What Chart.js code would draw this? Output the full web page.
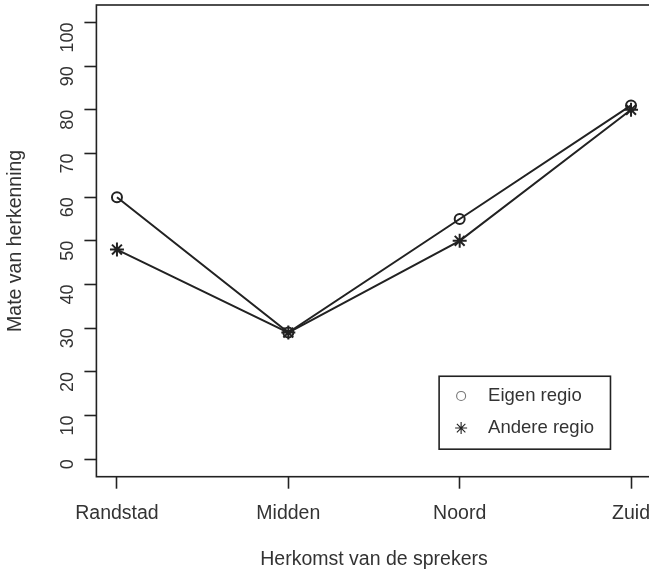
<!DOCTYPE html>
<html>
<head>
<meta charset="utf-8">
<script src="https://cdn.jsdelivr.net/npm/chart.js@4/dist/chart.umd.min.js"></script>
<style>
  html, body { margin: 0; padding: 0; background: #fff; overflow: hidden; }
  #wrap { width: 660px; height: 571px; }
</style>
</head>
<body>
<div id="wrap"><canvas id="chart" width="660" height="571"></canvas></div>
<script>
const categories = ['Randstad', 'Midden', 'Noord', 'Zuid']
const eigenRegio = [60, 29, 55, 81]
const andereRegio = [48, 29, 50, 80]
const yTicks = [0, 10, 20, 30, 40, 50, 60, 70, 80, 90, 100]

const ink = '#222'
const textColor = '#333'
const font = "'Liberation Sans', Arial, sans-serif"

// R-style box around the plot region
const boxPlugin = {
  id: 'box',
  afterDraw(chart) {
    const { ctx, chartArea: a } = chart
    ctx.save()
    ctx.strokeStyle = ink
    ctx.lineWidth = 1.6
    ctx.strokeRect(a.left, a.top, a.right - a.left, a.bottom - a.top)
    ctx.restore()
  }
}

// boxed legend in the lower right, like R's legend()
const boxLegend = {
  id: 'boxLegend',
  afterDraw(chart) {
    const { ctx } = chart
    const x = chart.scales.x
    const y = chart.scales.y
    const left = x.getPixelForValue(2.88)
    const right = x.getPixelForValue(3.88)
    const top = y.getPixelForValue(19)
    const bottom = y.getPixelForValue(2.3)
    ctx.save()
    ctx.strokeStyle = ink
    ctx.lineWidth = 1.6
    ctx.strokeRect(left, top, right - left, bottom - top)
    ctx.font = '18.5px ' + font
    ctx.textBaseline = 'middle'
    const rows = [top + (bottom - top) * 0.27, top + (bottom - top) * 0.71]
    chart.data.datasets.forEach((ds, i) => {
      const cy = rows[i]
      const cx = left + 22
      ctx.fillStyle = 'rgba(0,0,0,0)'
      if (ds.pointStyle === 'circle') {
        ctx.strokeStyle = '#777'
        ctx.lineWidth = 1.1
        ctx.beginPath()
        ctx.arc(cx, cy, 4.5, 0, Math.PI * 2)
        ctx.stroke()
      } else {
        ctx.strokeStyle = ink
        Chart.helpers.drawPoint(ctx, { pointStyle: ds.pointStyle, radius: 6, borderWidth: 1.3 }, cx, cy)
      }
      ctx.fillStyle = textColor
      ctx.fillText(ds.label, left + 49, cy)
    })
    ctx.restore()
  }
}

new Chart(document.getElementById('chart'), {
  type: 'line',
  data: {
    datasets: [
      {
        label: 'Eigen regio',
        data: categories.map((c, i) => ({ x: i + 1, y: eigenRegio[i] })),
        borderColor: ink,
        borderWidth: 2,
        pointStyle: 'circle',
        pointRadius: 5,
        pointBorderWidth: 2,
        pointBorderColor: ink,
        pointBackgroundColor: 'rgba(0,0,0,0)',
        tension: 0
      },
      {
        label: 'Andere regio',
        data: categories.map((c, i) => ({ x: i + 1, y: andereRegio[i] })),
        borderColor: ink,
        borderWidth: 2,
        pointStyle: 'star',
        pointRadius: 7,
        pointBorderWidth: 2,
        pointBorderColor: ink,
        pointBackgroundColor: ink,
        tension: 0
      }
    ]
  },
  options: {
    responsive: false,
    animation: false,
    layout: { autoPadding: false, padding: { left: 0, top: 5, right: 8.4, bottom: 0 } },
    plugins: {
      legend: { display: false },
      tooltip: { enabled: false }
    },
    scales: {
      x: {
        type: 'linear',
        min: 0.88,
        max: 4.12,
        afterBuildTicks: scale => {
          scale.ticks = categories.map((c, i) => ({ value: i + 1 }))
        },
        afterFit: scale => {
          scale.height = 94.3
          scale.paddingLeft = 0
          scale.paddingRight = 0
        },
        grid: {
          drawOnChartArea: false,
          drawTicks: true,
          tickLength: 12,
          tickColor: ink,
          tickWidth: 1.6
        },
        border: { display: false },
        ticks: {
          color: textColor,
          padding: 13,
          maxRotation: 0,
          font: { size: 19.5, family: font },
          callback: value => categories[value - 1]
        },
        title: {
          display: true,
          text: 'Herkomst van de sprekers',
          color: textColor,
          font: { size: 19.5, family: font },
          padding: { top: 0, bottom: 0 }
        }
      },
      y: {
        min: -4,
        max: 104,
        afterBuildTicks: scale => {
          scale.ticks = yTicks.map(v => ({ value: v }))
        },
        afterFit: scale => {
          scale.width = 96.4
          scale.paddingTop = 0
          scale.paddingBottom = 0
        },
        grid: {
          drawOnChartArea: false,
          drawTicks: true,
          tickLength: 12,
          tickColor: ink,
          tickWidth: 1.6
        },
        border: { display: false },
        ticks: {
          color: textColor,
          padding: 16,
          minRotation: 90,
          maxRotation: 90,
          font: { size: 18, family: font }
        },
        title: {
          display: true,
          text: 'Mate van herkenning',
          color: textColor,
          font: { size: 19.5, family: font },
          padding: { top: 4, bottom: 0 }
        }
      }
    }
  },
  plugins: [boxPlugin, boxLegend]
})
</script>
</body>
</html>
